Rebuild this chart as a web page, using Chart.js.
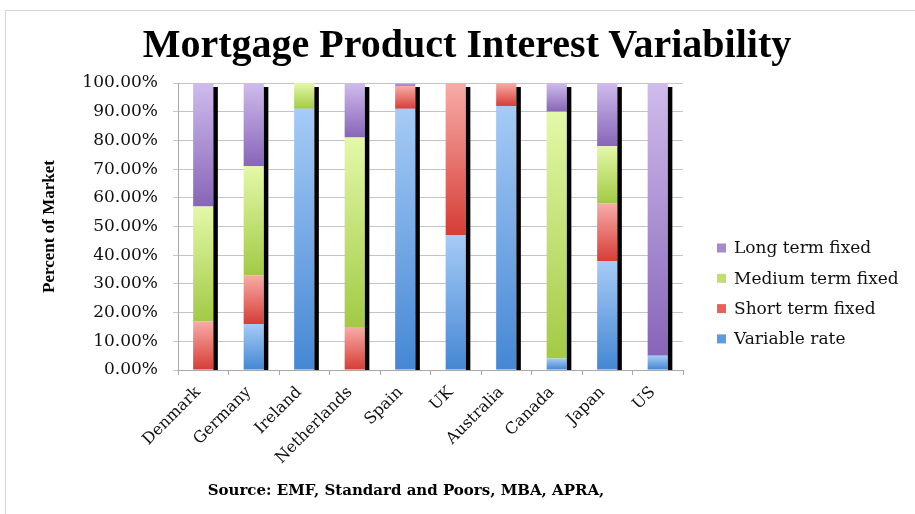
<!DOCTYPE html>
<html>
<head>
<meta charset="utf-8">
<script src="https://cdn.jsdelivr.net/npm/chart.js@4.4.1/dist/chart.umd.min.js"></script>
<style>
  html, body { margin: 0; padding: 0; background: #fff; overflow: hidden; width: 915px; height: 514px; }
  #quadro { position: absolute; left: 5px; top: 10px; width: 940px; height: 520px;
            border-left: 1px solid #d4d4d4; border-top: 1px solid #d4d4d4; }
  #grafico { position: absolute; left: 0; top: 0; }
  #titulo { position: absolute; left: 0; top: 20px; width: 934px; text-align: center;
            font: bold 40px "Liberation Serif", serif; color: #000; line-height: 48px; }
  #fonte { position: absolute; left: 0; top: 481px; width: 812px; text-align: center;
           font: bold 15px "DejaVu Serif", serif; color: #000; }
</style>
</head>
<body>
<div id="quadro"><canvas id="grafico" width="923" height="503"></canvas></div>
<div id="titulo">Mortgage Product Interest Variability</div>
<div id="fonte">Source: EMF, Standard and Poors, MBA, APRA,</div>
<script>
// dados (percentual do mercado)
const paises = ["Denmark", "Germany", "Ireland", "Netherlands", "Spain", "UK", "Australia", "Canada", "Japan", "US"];
const taxaVariavel = [0, 16, 91, 0, 91, 47, 92, 4, 38, 5];
const fixoCurto = [17, 17, 0, 15, 8, 53, 8, 0, 20, 0];
const fixoMedio = [40, 38, 9, 66, 0, 0, 0, 86, 20, 0];
const fixoLongo = [43, 29, 0, 19, 1, 0, 0, 10, 22, 95];
const nomesSeries = ["Variable rate", "Short term fixed", "Medium term fixed", "Long term fixed"];
const topoSombra = 98.6;

// cores: [meio, claro (topo), escuro (base)]
const cores = [
    ["#5b9be0", "#a6cbf6", "#4587d4"],
    ["#e8625c", "#f8aca7", "#d63d37"],
    ["#bde070", "#e4f8a8", "#a2ca45"],
    ["#a68ad0", "#cfbcec", "#8765b8"]
];

const series = [taxaVariavel, fixoCurto, fixoMedio, fixoLongo];

// gradiente vertical em cada pedaco da barra
const pluginGradiente = {
    id: "gradiente",
    beforeDatasetsDraw(chart){
        const ctx = chart.ctx;
        chart.data.datasets.forEach((ds, i) => {
            chart.getDatasetMeta(i).data.forEach(barra => {
                if(Math.abs(barra.base - barra.y) < 0.5) return;
                const g = ctx.createLinearGradient(0, barra.y, 0, barra.base);
                g.addColorStop(0, cores[i][1]);
                g.addColorStop(1, cores[i][2]);
                barra.options.backgroundColor = g;
            });
        });
    }
};

// faixa preta a direita de cada barra
const pluginSombra = {
    id: "sombra",
    afterDatasetsDraw(chart){
        const ctx = chart.ctx;
        const y = chart.scales.y;
        const topo = y.getPixelForValue(topoSombra);
        const base = y.getPixelForValue(0);
        ctx.save();
        ctx.fillStyle = "#000";
        chart.getDatasetMeta(0).data.forEach(barra => {
            ctx.fillRect(barra.x + barra.width / 2, topo, 4.5, base - topo);
        });
        ctx.restore();
    }
};

// legenda desenhada a mao (ordem invertida)
const pluginLegenda = {
    id: "legenda",
    afterDraw(chart){
        const ctx = chart.ctx;
        ctx.save();
        ctx.font = "17px 'DejaVu Serif'";
        ctx.textBaseline = "middle";
        const n = chart.data.datasets.length;
        for(let k = 0; k < n; k++){
            const i = n - 1 - k;
            const yc = 237 + k * 30.3;
            ctx.fillStyle = cores[i][0];
            ctx.fillRect(711, yc - 4.5, 9, 9);
            ctx.fillStyle = "#111";
            ctx.fillText(chart.data.datasets[i].label, 728, yc + 1);
        }
        ctx.restore();
    }
};

new Chart("grafico", {
    type: "bar",
    data: {
        labels: paises,
        datasets: series.map((valores, i) => ({
            label: nomesSeries[i],
            data: valores,
            backgroundColor: () => cores[i][0],
            borderWidth: 0,
            barPercentage: 0.4,
            categoryPercentage: 1
        }))
    },
    options: {
        responsive: false,
        animation: false,
        devicePixelRatio: 1,
        layout: { padding: { top: 72, left: 20, right: 246, bottom: 44 } },
        plugins: {
            legend: { display: false },
            tooltip: { enabled: false },
            title: { display: false }
        },
        scales: {
            x: {
                stacked: true,
                afterFit(scale){ scale.height = 100; },
                grid: { drawOnChartArea: false, tickLength: 5, color: "#a8a8a8" },
                border: { color: "#a8a8a8" },
                ticks: {
                    autoSkip: false, maxRotation: 45, minRotation: 45, padding: 8,
                    labelOffset: -5,
                    color: "#111",
                    font: { family: "DejaVu Serif", size: 16 }
                }
            },
            y: {
                stacked: true,
                min: 0,
                max: 100,
                afterFit(scale){ scale.width = 152; },
                grid: { color: "#c4c4c4", tickLength: 5 },
                border: { color: "#a8a8a8" },
                ticks: {
                    stepSize: 10,
                    padding: 15,
                    color: "#111",
                    font: { family: "DejaVu Serif", size: 17 },
                    callback: v => v.toFixed(2) + "%"
                },
                title: {
                    display: true,
                    text: "Percent of Market",
                    color: "#000",
                    font: { family: "Liberation Serif", size: 17, weight: "bold" },
                    padding: { top: 13, bottom: 0 }
                }
            }
        }
    },
    plugins: [pluginGradiente, pluginSombra, pluginLegenda]
});
</script>
</body>
</html>
